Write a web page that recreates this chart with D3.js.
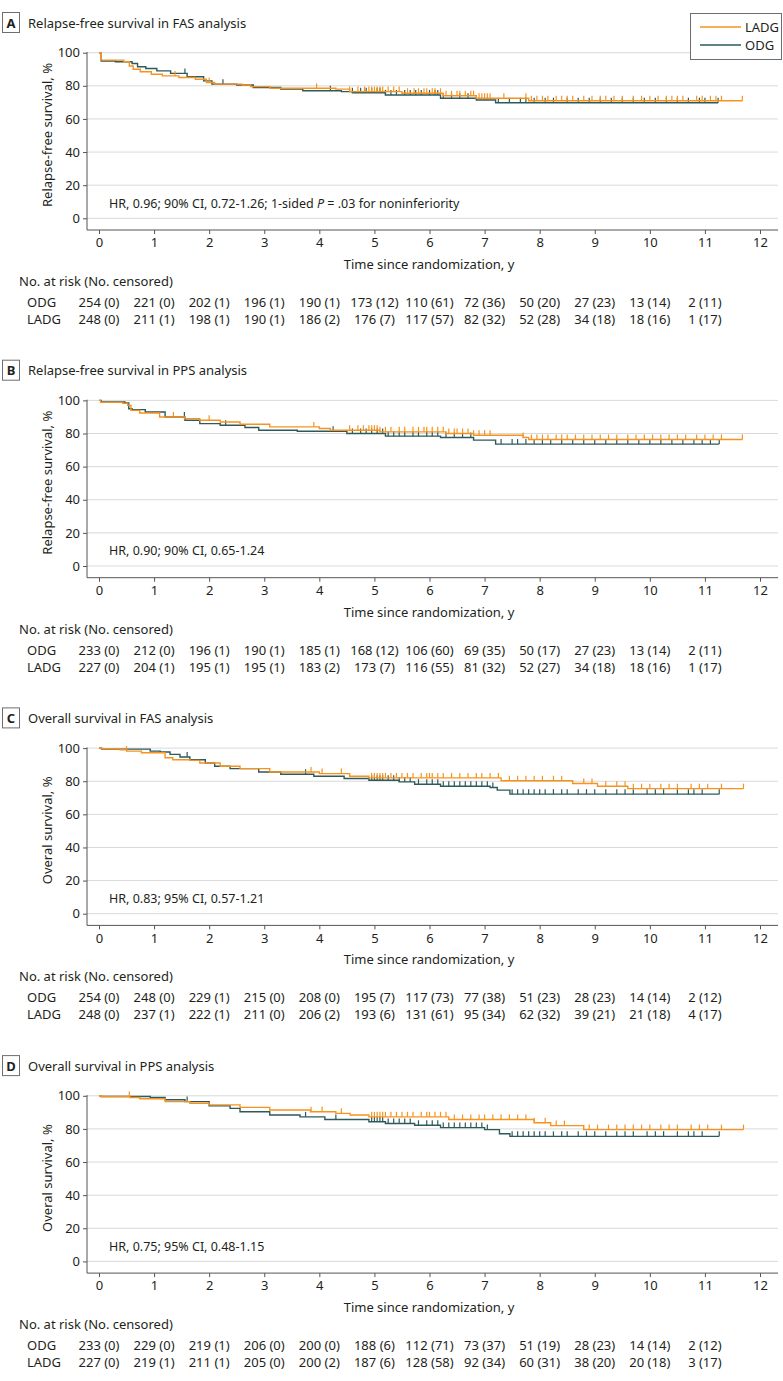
<!DOCTYPE html>
<html><head><meta charset="utf-8">
<script src="https://cdn.jsdelivr.net/npm/d3@7"></script>
<style>
body{margin:0;background:#fff;}
svg text{font-family:"Noto Sans",sans-serif;fill:#231f20;}
</style></head>
<body><svg id="c" width="783" height="1381"></svg>
<script>
// ---------- data ----------
const years = [0,1,2,3,4,5,6,7,8,9,10,11,12];
const yTicks = [0,20,40,60,80,100];
const panelLetters = ["A","B","C","D"];
const panelTitles = ["Relapse-free survival in FAS analysis","Relapse-free survival in PPS analysis","Overall survival in FAS analysis","Overall survival in PPS analysis"];
const yTitles = ["Relapse-free survival, %","Relapse-free survival, %","Overal survival, %","Overal survival, %"];
const hrTexts = [
  ["HR, 0.96; 90% CI, 0.72-1.26; 1-sided ", "P", " = .03 for noninferiority"],
  ["HR, 0.90; 90% CI, 0.65-1.24"],
  ["HR, 0.83; 95% CI, 0.57-1.21"],
  ["HR, 0.75; 95% CI, 0.48-1.15"]
];
const groups = ["LADG","ODG"];

// risk tables
const riskODG_A  = ["254 (0)","221 (0)","202 (1)","196 (1)","190 (1)","173 (12)","110 (61)","72 (36)","50 (20)","27 (23)","13 (14)","2 (11)"];
const riskLADG_A = ["248 (0)","211 (1)","198 (1)","190 (1)","186 (2)","176 (7)","117 (57)","82 (32)","52 (28)","34 (18)","18 (16)","1 (17)"];
const riskODG_B  = ["233 (0)","212 (0)","196 (1)","190 (1)","185 (1)","168 (12)","106 (60)","69 (35)","50 (17)","27 (23)","13 (14)","2 (11)"];
const riskLADG_B = ["227 (0)","204 (1)","195 (1)","195 (1)","183 (2)","173 (7)","116 (55)","81 (32)","52 (27)","34 (18)","18 (16)","1 (17)"];
const riskODG_C  = ["254 (0)","248 (0)","229 (1)","215 (0)","208 (0)","195 (7)","117 (73)","77 (38)","51 (23)","28 (23)","14 (14)","2 (12)"];
const riskLADG_C = ["248 (0)","237 (1)","222 (1)","211 (0)","206 (2)","193 (6)","131 (61)","95 (34)","62 (32)","39 (21)","21 (18)","4 (17)"];
const riskODG_D  = ["233 (0)","229 (0)","219 (1)","206 (0)","200 (0)","188 (6)","112 (71)","73 (37)","51 (19)","28 (23)","14 (14)","2 (12)"];
const riskLADG_D = ["227 (0)","219 (1)","211 (1)","205 (0)","200 (2)","187 (6)","128 (58)","92 (34)","60 (31)","38 (20)","20 (18)","3 (17)"];

// survival step curves [time (y), survival (%)]
const ladgA = [[0,100],[0.04,95.5],[0.45,94.5],[0.55,92],[0.62,90],[0.75,88.5],[0.95,87],[1.15,86],[1.45,85],[1.75,84],[1.95,82],[2.1,81],[2.6,80.5],[2.75,79.5],[3.1,78.5],[4.3,78],[4.55,76.5],[5.5,75.5],[6.25,74],[6.85,72.5],[7.8,71],[11.68,71]];
const odgA  = [[0,100],[0.04,95],[0.3,94.5],[0.6,93.5],[0.7,91.5],[0.85,90.5],[1.05,89],[1.3,87.5],[1.6,85.5],[1.9,83],[2.05,81],[2.5,80.5],[2.8,79],[3.3,78],[3.7,77],[4.4,76.5],[4.6,75.8],[5.2,74.5],[6.2,72.5],[6.85,71.4],[7.2,69.8],[11.24,69.8]];
const ladgB = [[0,100],[0.03,98.8],[0.43,98.2],[0.52,97],[0.58,94],[0.74,92.4],[1.1,90],[1.55,89],[1.83,88],[2.2,87],[2.56,85.6],[3.1,84],[4.0,83],[4.2,82],[5.1,81],[6.3,80],[6.8,79],[7.7,77.6],[7.8,76.4],[11.68,76.4]];
const odgB  = [[0,100],[0.04,99],[0.47,98.4],[0.54,95],[0.6,94.4],[0.84,93],[1.2,90],[1.56,88],[1.83,86],[2.2,85],[2.65,83.6],[2.9,82],[3.6,81.4],[4.5,80],[5.2,78.4],[6.2,77.6],[6.8,76],[7.2,73.6],[11.26,73.6]];
const ladgC = [[0,100],[0.04,99.6],[0.38,99],[0.5,98.2],[0.77,97.2],[1.2,94.2],[1.34,93],[1.65,92.6],[1.83,91],[2.2,89],[2.56,87.6],[3.1,85.6],[4.0,84.6],[4.55,83],[4.9,82],[7.3,80.3],[8.6,78.6],[9.05,77],[9.6,75.5],[11.7,75.5]];
const odgC  = [[0,100],[0.05,99.4],[0.93,98.2],[1.11,97.6],[1.29,96.2],[1.47,94.6],[1.65,93],[1.93,91],[2.1,89],[2.38,87.6],[2.9,85.6],[3.3,84.2],[3.9,83],[4.45,81.6],[4.9,80.6],[5.45,79.6],[5.73,78.2],[6.2,77],[7.1,76.2],[7.23,74.6],[7.46,72.2],[11.26,72.2]];
const ladgD = [[0,100],[0.04,99.6],[0.56,99],[0.74,98.2],[1.2,96.5],[1.65,95.5],[2.0,94.5],[2.56,93],[3.1,91.4],[3.84,90.4],[4.3,89.4],[4.56,88.4],[4.9,87.3],[6.35,85.7],[7.9,83.7],[8.2,82],[8.8,79.6],[11.7,79.6]];
const odgD  = [[0,100],[0.04,99.6],[0.93,99],[1.2,97.6],[1.56,96.5],[2.0,93.9],[2.38,92.4],[2.56,90.4],[3.1,88.4],[3.65,87.3],[4.1,85.7],[4.9,84.3],[5.2,83.3],[5.73,82.2],[6.2,80.8],[7.0,79.6],[7.27,77.1],[7.46,75.5],[11.26,75.5]];

// censoring times (y)
const ladgA_cens = [1.38,2.0,3.95,4.55,4.7,4.82,4.9,4.95,5.0,5.05,5.1,5.15,5.25,5.35,5.45,5.6,5.72,5.8,5.9,5.95,6.05,6.1,6.2,6.3,6.4,6.5,6.55,6.65,6.75,6.8,6.9,6.95,7.0,7.05,7.1,7.35,7.75,7.85,7.95,8.05,8.15,8.3,8.4,8.5,8.6,8.8,8.95,9.1,9.2,9.35,9.5,9.7,9.85,10.0,10.15,10.3,10.4,10.5,10.6,10.85,10.95,11.1,11.2,11.3,11.68];
const odgA_cens  = [1.56,2.25,4.2,4.6,4.75,4.85,4.95,5.05,5.1,5.2,5.3,5.4,5.55,5.65,5.75,5.85,6.0,6.1,6.15,6.25,6.4,6.55,6.7,7.25,7.45,7.65,7.75,7.9,8.1,8.25,8.5,8.7,8.9,9.1,9.3,9.5,9.7,9.9,10.1,10.3,10.5,10.7,10.9,11.0,11.24];
const ladgB_cens = [1.35,2.0,3.9,4.55,4.7,4.8,4.9,4.95,5.0,5.05,5.1,5.2,5.3,5.45,5.55,5.7,5.8,5.9,5.95,6.05,6.15,6.25,6.35,6.45,6.5,6.6,6.7,6.8,6.9,7.0,7.1,7.7,7.85,7.95,8.05,8.15,8.3,8.4,8.5,8.65,8.8,8.95,9.1,9.25,9.4,9.6,9.75,9.9,10.05,10.2,10.35,10.5,10.65,10.85,11.0,11.15,11.3,11.68];
const odgB_cens  = [1.55,2.3,4.25,4.6,4.75,4.85,4.95,5.05,5.15,5.25,5.35,5.45,5.55,5.7,5.8,5.95,6.05,6.15,6.3,6.45,6.6,6.75,7.3,7.5,7.6,7.75,7.9,8.05,8.2,8.4,8.6,8.8,9.0,9.2,9.4,9.6,9.8,10.0,10.2,10.4,10.6,10.8,10.95,11.1,11.26];
const ladgC_cens = [0.5,3.85,4.05,4.4,4.95,5.0,5.05,5.1,5.15,5.2,5.3,5.4,5.5,5.6,5.7,5.85,5.95,6.0,6.05,6.15,6.25,6.4,6.55,6.7,6.85,6.95,7.1,7.25,7.45,7.6,7.75,7.9,8.05,8.25,8.4,8.8,8.95,9.2,9.4,9.55,9.7,9.85,10.0,10.2,10.35,10.5,10.75,10.9,11.05,11.3,11.7];
const odgC_cens  = [1.6,3.75,4.95,5.0,5.05,5.1,5.15,5.25,5.35,5.45,5.55,5.65,5.8,5.95,6.05,6.15,6.25,6.35,6.45,6.55,6.65,6.75,6.85,6.95,7.05,7.15,7.5,7.6,7.7,7.8,7.9,8.0,8.1,8.25,8.4,8.5,8.7,8.85,9.0,9.2,9.4,9.55,9.7,9.95,10.1,10.25,10.5,10.7,10.8,10.95,11.26];
const ladgD_cens = [0.55,3.85,4.05,4.4,4.95,5.0,5.05,5.1,5.15,5.2,5.3,5.4,5.5,5.6,5.7,5.85,5.95,6.0,6.1,6.2,6.3,6.45,6.6,6.75,6.9,7.0,7.15,7.3,7.45,7.6,7.75,7.9,8.1,8.3,8.45,8.9,9.05,9.25,9.4,9.55,9.7,9.85,10.0,10.2,10.35,10.5,10.75,10.9,11.05,11.3,11.7];
const odgD_cens  = [1.6,3.75,4.3,4.95,5.0,5.05,5.1,5.15,5.25,5.35,5.45,5.55,5.65,5.8,5.95,6.05,6.15,6.25,6.35,6.45,6.55,6.65,6.75,6.85,6.95,7.05,7.5,7.6,7.7,7.8,7.9,8.0,8.1,8.25,8.4,8.5,8.7,8.85,9.0,9.2,9.4,9.55,9.7,9.95,10.1,10.25,10.5,10.7,10.8,10.95,11.26];

const colors = {LADG:"#f7931d", ODG:"#2d5a5c"};

const panels = [
  {curves:{LADG:ladgA,ODG:odgA}, cens:{LADG:ladgA_cens,ODG:odgA_cens}, risk:{ODG:riskODG_A,LADG:riskLADG_A}},
  {curves:{LADG:ladgB,ODG:odgB}, cens:{LADG:ladgB_cens,ODG:odgB_cens}, risk:{ODG:riskODG_B,LADG:riskLADG_B}},
  {curves:{LADG:ladgC,ODG:odgC}, cens:{LADG:ladgC_cens,ODG:odgC_cens}, risk:{ODG:riskODG_C,LADG:riskLADG_C}},
  {curves:{LADG:ladgD,ODG:odgD}, cens:{LADG:ladgD_cens,ODG:odgD_cens}, risk:{ODG:riskODG_D,LADG:riskLADG_D}}
];

// ---------- drawing ----------
const svg = d3.select("#c");
const x = d3.scaleLinear().domain([0,12]).range([99,760]);
const y = d3.scaleLinear().domain([0,100]).range([218.3,52.7]);
const line = d3.line().x(d=>x(d[0])).y(d=>y(d[1])).curve(d3.curveStepAfter);
function valAt(curve,t){let v=curve[0][1];for(const p of curve){if(p[0]<=t+1e-9)v=p[1];else break;}return v;}

const panelGap = 347.7;
panels.forEach((p,i)=>{
  const g = svg.append("g").attr("transform",`translate(0,${i*panelGap})`);
  // letter box + title
  g.append("rect").attr("x",2.5).attr("y",12.5).attr("width",17).attr("height",20).attr("fill","none").attr("stroke","#6d6e71").attr("stroke-width",1);
  g.append("text").attr("x",11).attr("y",27.5).attr("text-anchor","middle").attr("font-size",13).attr("font-weight","bold").text(panelLetters[i]);
  g.append("text").attr("x",28).attr("y",27.5).attr("font-size",13).text(panelTitles[i]);
  // gridlines
  g.append("g").selectAll("line").data(yTicks).join("line")
    .attr("x1",87).attr("x2",778).attr("y1",d=>y(d)).attr("y2",d=>y(d))
    .attr("stroke","#d9d9d9").attr("stroke-width",1);
  // y axis
  const ya = g.append("g").attr("transform","translate(87,0)")
    .call(d3.axisLeft(y).tickValues(yTicks).tickSize(4).tickPadding(3));
  ya.select(".domain").remove();
  ya.selectAll("line").attr("stroke","#555");
  ya.selectAll("text").attr("font-size",13).attr("font-family","Noto Sans").attr("fill","#231f20");
  g.append("line").attr("x1",87).attr("x2",87).attr("y1",52).attr("y2",230).attr("stroke","#555");
  // x axis
  const xa = g.append("g").attr("transform","translate(0,230)")
    .call(d3.axisBottom(x).tickValues(years).tickSize(4).tickPadding(4));
  xa.select(".domain").remove();
  xa.selectAll("line").attr("stroke","#555");
  xa.selectAll("text").attr("font-size",13).attr("font-family","Noto Sans").attr("fill","#231f20");
  g.append("line").attr("x1",87).attr("x2",778).attr("y1",230).attr("y2",230).attr("stroke","#555");
  // axis titles
  g.append("text").attr("x",429).attr("y",269).attr("text-anchor","middle").attr("font-size",13).text("Time since randomization, y");
  g.append("text").attr("transform","translate(52,135) rotate(-90)").attr("text-anchor","middle").attr("font-size",13).text(yTitles[i]);
  // HR text
  const hr = g.append("text").attr("x",109).attr("y",207.5).attr("font-size",12.5);
  hrTexts[i].forEach((s,k)=>hr.append("tspan").attr("font-style",s==="P"?"italic":"normal").text(s));
  // curves: ODG first then LADG on top
  ["ODG","LADG"].forEach(grp=>{
    const c = p.curves[grp];
    g.append("path").datum(c).attr("d",line).attr("fill","none").attr("stroke",colors[grp]).attr("stroke-width",1.4);
    g.append("g").selectAll("line").data(p.cens[grp]).join("line")
      .attr("x1",d=>x(d)).attr("x2",d=>x(d))
      .attr("y1",d=>y(valAt(c,d))).attr("y2",d=>y(valAt(c,d))-5)
      .attr("stroke",colors[grp]).attr("stroke-width",1.2);
  });
  // risk table
  g.append("text").attr("x",19).attr("y",286).attr("font-size",13).text("No. at risk (No. censored)");
  [["ODG",307],["LADG",324]].forEach(([grp,yy])=>{
    g.append("text").attr("x",27).attr("y",yy).attr("font-size",13).text(grp);
    g.append("g").selectAll("text").data(p.risk[grp]).join("text")
      .attr("x",(d,k)=>x(years[k])).attr("y",yy).attr("text-anchor","middle").attr("font-size",13).text(d=>d);
  });
});

// legend
const lg = svg.append("g");
lg.append("rect").attr("x",690.5).attr("y",13.5).attr("width",91).attr("height",46).attr("fill","#fff").attr("stroke","#6d6e71");
groups.forEach((grp,k)=>{
  const yy = 27 + k*18;
  lg.append("line").attr("x1",700).attr("x2",741).attr("y1",yy).attr("y2",yy).attr("stroke",colors[grp]).attr("stroke-width",1.6);
  lg.append("text").attr("x",745).attr("y",yy+4.5).attr("font-size",13).text(grp);
});
</script></body></html>
